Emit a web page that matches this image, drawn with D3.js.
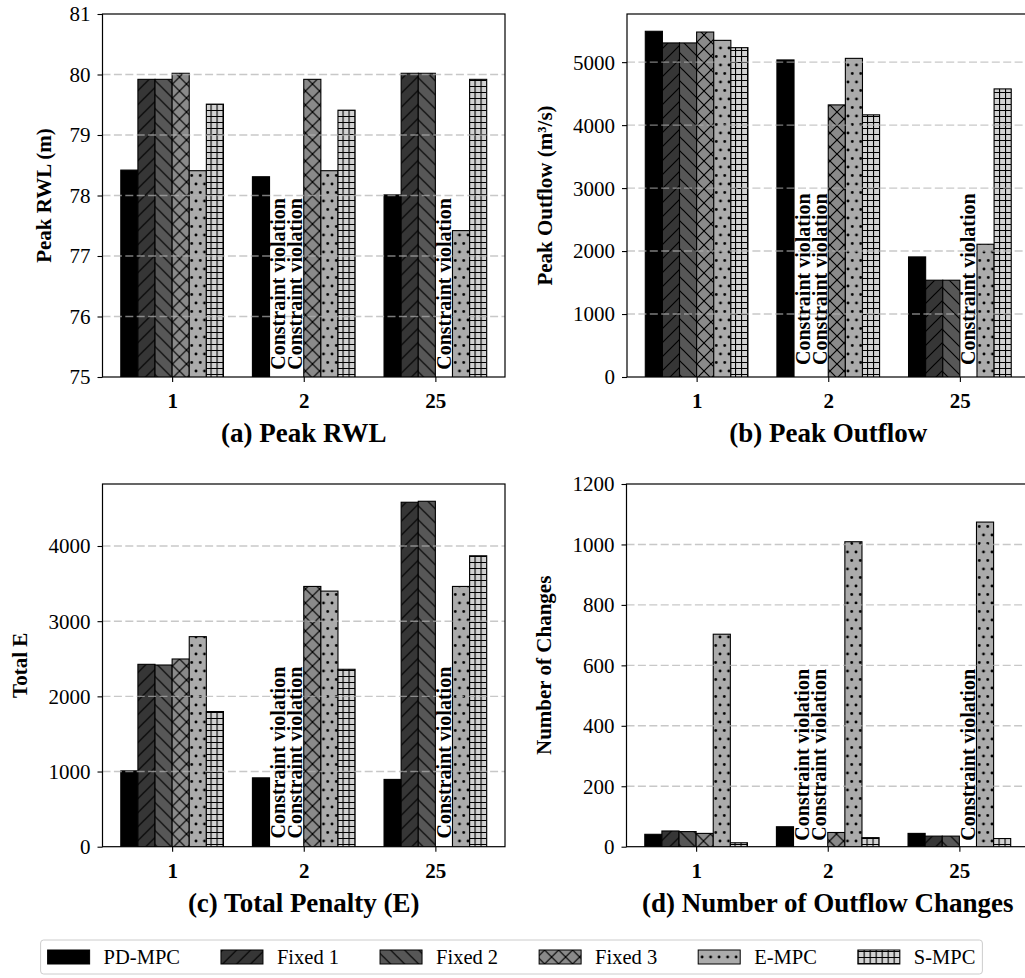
<!DOCTYPE html>
<html>
<head>
<meta charset="utf-8">
<script src="https://cdn.jsdelivr.net/npm/d3@7"></script>
<style>
  body { margin: 0; background: #fff; }
  svg { display: block; }
  text { font-family: "Liberation Serif", "Times New Roman", Times, serif; fill: #000; }
</style>
</head>
<body>
<svg id="chart" width="1025" height="978"></svg>
<script>
// ---------------- data ----------------
const categories = ["1", "2", "25"];
const methods = ["PD-MPC", "Fixed 1", "Fixed 2", "Fixed 3", "E-MPC", "S-MPC"];
// rows = categories, columns = methods; null = constraint violation
const peakRWL = [
  [78.42, 79.92, 79.92, 80.02, 78.41, 79.51],
  [78.31, null, null, 79.92, 78.41, 79.41],
  [78.01, 80.02, 80.02, null, 77.42, 79.92]
];
const peakOutflow = [
  [5490, 5305, 5305, 5478, 5346, 5230],
  [5035, null, null, 4321, 5060, 4163],
  [1907, 1537, 1537, null, 2108, 4575]
];
const totalPenalty = [
  [1009, 2426, 2417, 2497, 2794, 1798],
  [916, null, null, 3462, 3400, 2360],
  [895, 4582, 4595, null, 3462, 3870]
];
const outflowChanges = [
  [41, 52, 50, 44, 703, 13],
  [66, null, null, 47, 1009, 30],
  [44, 35, 35, null, 1074, 27]
];
const rwlTicks = [75, 76, 77, 78, 79, 80, 81];
const outflowTicks = [0, 1000, 2000, 3000, 4000, 5000];
const penaltyTicks = [0, 1000, 2000, 3000, 4000];
const changesTicks = [0, 200, 400, 600, 800, 1000, 1200];
const panelTitles = ["(a) Peak RWL", "(b) Peak Outflow", "(c) Total Penalty (E)", "(d) Number of Outflow Changes"];
const yLabels = ["Peak RWL (m)", "Peak Outflow (m\u00B3/s)", "Total E", "Number of Changes"];
const violationText = "Constraint violation";
// data-space y where the violation labels start
const violationY = [75.12, 190, 110, 20];

// ---------------- styles ----------------
const svg = d3.select("#chart");
const defs = svg.append("defs");

const styles = [
  { fill: "#000000", hatch: null },
  { fill: "#363636", hatch: "fwd" },
  { fill: "#575757", hatch: "back" },
  { fill: "#8a8a8a", hatch: "cross" },
  { fill: "#ababab", hatch: "dots" },
  { fill: "#d2d2d2", hatch: "grid" }
];

function makePattern(i, st) {
  if (!st.hatch) return st.fill;
  const id = "hatch" + i;
  let w = 14, h = 14;
  if (st.hatch === "dots") { w = 8.5; h = 17; }
  if (st.hatch === "grid") { w = 6; h = 6; }
  const p = defs.append("pattern").attr("id", id)
    .attr("patternUnits", "userSpaceOnUse").attr("width", w).attr("height", h);
  p.append("rect").attr("width", w).attr("height", h).attr("fill", st.fill);
  const line = d => p.append("path").attr("d", d).attr("stroke", "#000")
    .attr("stroke-width", 1.2).attr("fill", "none");
  const s = 14, e = s / 4;
  if (st.hatch === "fwd" || st.hatch === "cross")
    line(`M0,${s}L${s},0M${-e},${e}L${e},${-e}M${s - e},${s + e}L${s + e},${s - e}`);
  if (st.hatch === "back" || st.hatch === "cross")
    line(`M0,0L${s},${s}M${-e},${s - e}L${e},${s + e}M${s - e},${-e}L${s + e},${e}`);
  if (st.hatch === "dots")
    [[0, 0], [w, 0], [w / 2, h / 2], [0, h], [w, h]].forEach(([cx, cy]) =>
      p.append("circle").attr("cx", cx).attr("cy", cy).attr("r", 1.4).attr("fill", "#000"));
  if (st.hatch === "grid") line(`M0,0.5H${w}M0.5,0V${h}`);
  return `url(#${id})`;
}
const fills = styles.map((s, i) => makePattern(i, s));

// ---------------- panels ----------------
const W = 402.5;
const barW = 0.13;
const panels = [
  { data: peakRWL, ticks: rwlTicks, domain: [75, 81], left: 102.5, top: 14, h: 363, ylx: 44 },
  { data: peakOutflow, ticks: outflowTicks, domain: [0, d3.max(peakOutflow.flat()) * 1.05], left: 627, top: 14, h: 363, ylx: 545 },
  { data: totalPenalty, ticks: penaltyTicks, domain: [0, d3.max(totalPenalty.flat()) * 1.05], left: 102.5, top: 484, h: 362.7, ylx: 20 },
  { data: outflowChanges, ticks: changesTicks, domain: [0, 1200], left: 626.5, top: 484, h: 362.7, ylx: 544 }
];

panels.forEach((P, pi) => {
  const g = svg.append("g").attr("transform", `translate(${P.left},${P.top})`);
  const x = d3.scaleLinear().domain([-0.529, 2.529]).range([0, W]);
  const y = d3.scaleLinear().domain(P.domain).range([P.h, 0]);
  const clipId = "clip" + pi;
  defs.append("clipPath").attr("id", clipId).append("rect").attr("width", W).attr("height", P.h);
  const plot = g.append("g").attr("clip-path", `url(#${clipId})`);

  const recs = [];
  P.data.forEach((row, ci) => row.forEach((v, mi) => recs.push({ ci, mi, v })));

  plot.selectAll("rect.bar").data(recs.filter(d => d.v !== null)).join("rect")
    .attr("class", "bar")
    .attr("x", d => x(d.ci + (d.mi - 3) * barW))
    .attr("width", x(barW) - x(0))
    .attr("y", d => y(d.v))
    .attr("height", d => y(P.domain[0]) - y(d.v) + 3)
    .attr("fill", d => fills[d.mi])
    .attr("stroke", "#000").attr("stroke-width", 1.1);

  // grid (drawn above bars)
  plot.selectAll("line.grid")
    .data(P.ticks.filter(t => t > P.domain[0] && t < P.domain[1]))
    .join("line").attr("class", "grid")
    .attr("x1", 0).attr("x2", W)
    .attr("y1", d => y(d)).attr("y2", d => y(d))
    .attr("stroke", "#b0b0b0").attr("stroke-opacity", 0.7)
    .attr("stroke-width", 1.4).attr("stroke-dasharray", "8,3.4");

  // violation labels
  g.selectAll("text.viol").data(recs.filter(d => d.v === null)).join("text")
    .attr("class", "viol")
    .attr("transform", d => `translate(${x(d.ci + (d.mi - 2.5) * barW)},${y(violationY[pi])}) rotate(-90)`)
    .attr("dy", "0.35em").attr("text-anchor", "start")
    .attr("font-weight", "bold").attr("font-size", 20)
    .text(violationText);

  // y axis
  const ya = g.append("g").call(d3.axisLeft(y).tickValues(P.ticks).tickSize(5).tickPadding(7).tickFormat(d3.format("d")));
  ya.select(".domain").remove();
  ya.selectAll(".tick line").attr("stroke", "#000").attr("stroke-width", 1.1);
  ya.selectAll(".tick text").attr("font-size", 21).attr("font-family", null).attr("dy", "0.33em");

  // x axis
  const xa = g.append("g").attr("transform", `translate(0,${P.h})`)
    .call(d3.axisBottom(x).tickValues([0, 1, 2]).tickSize(5).tickFormat(i => categories[i]));
  xa.select(".domain").remove();
  xa.selectAll(".tick line").attr("stroke", "#000").attr("stroke-width", 1.1);
  xa.selectAll(".tick text").attr("font-size", 21).attr("font-weight", "bold")
    .attr("font-family", null).attr("y", 31).attr("dy", 0);

  // spines
  g.append("rect").attr("width", W).attr("height", P.h)
    .attr("fill", "none").attr("stroke", "#000").attr("stroke-width", 1.2);

  // y label
  g.append("text")
    .attr("transform", `translate(${P.ylx - P.left},${P.h / 2}) rotate(-90)`)
    .attr("text-anchor", "middle").attr("dy", "0.35em")
    .attr("font-size", 21).attr("font-weight", "bold")
    .text(yLabels[pi]);

  // title
  g.append("text").attr("x", W / 2).attr("y", P.h + 65)
    .attr("text-anchor", "middle").attr("font-size", 27).attr("font-weight", "bold")
    .text(panelTitles[pi]);
});

// ---------------- legend ----------------
const fs = 20.5, handleW = 42, handleH = 14, htp = 14, colsp = 41, pad = 7;
const lg = svg.append("g");
const box = lg.append("rect");
let cx = 0;
methods.forEach((m, i) => {
  lg.append("rect").attr("x", cx).attr("y", -handleH / 2)
    .attr("width", handleW).attr("height", handleH)
    .attr("fill", fills[i]).attr("stroke", "#000").attr("stroke-width", 1);
  const t = lg.append("text").attr("x", cx + handleW + htp).attr("y", 0)
    .attr("dy", "0.33em").attr("font-size", fs).text(m);
  cx += handleW + htp + t.node().getComputedTextLength() + colsp;
});
cx -= colsp;
box.attr("x", -pad).attr("y", -17).attr("width", cx + 2 * pad).attr("height", 34)
  .attr("rx", 3).attr("fill", "#fff").attr("stroke", "#cccccc").attr("stroke-width", 1);
lg.attr("transform", `translate(${511.5 - cx / 2},957)`);
</script>
</body>
</html>
